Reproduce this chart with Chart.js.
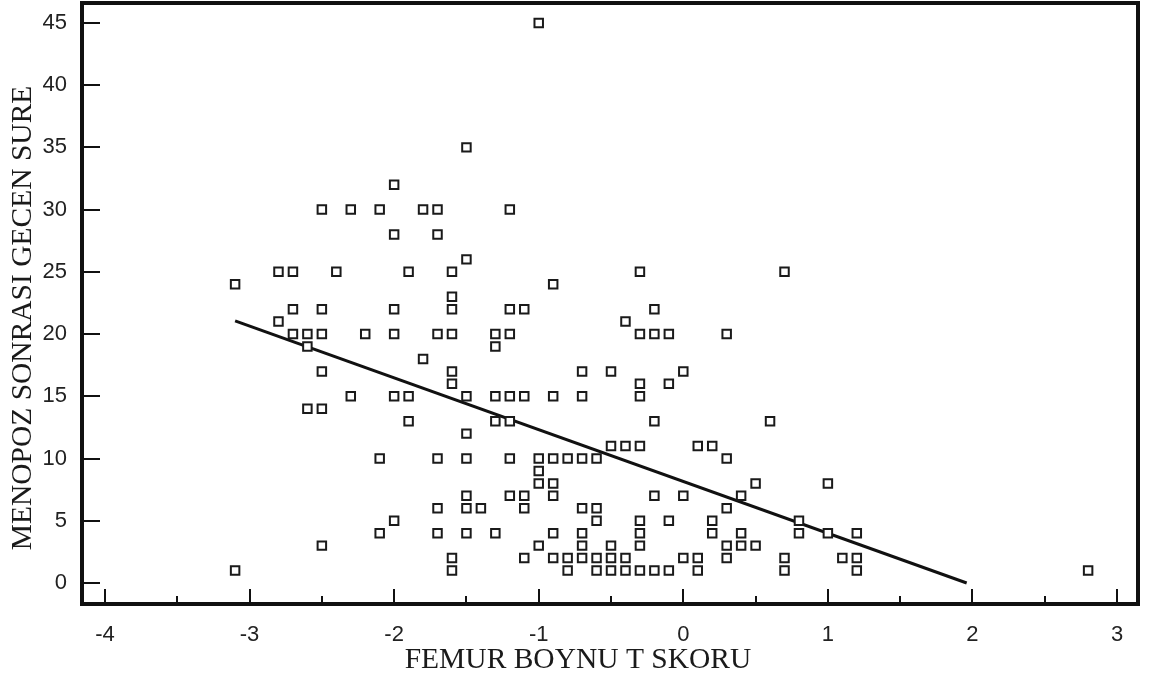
<!DOCTYPE html>
<html>
<head>
<meta charset="utf-8">
<script src="https://cdn.jsdelivr.net/npm/chart.js@4.4.1/dist/chart.umd.min.js"></script>
<style>
  html, body { margin: 0; padding: 0; background: #fff; }
  #wrap { width: 1152px; height: 683px; }
</style>
</head>
<body>
<div id="wrap"><canvas id="chart" width="1152" height="683"></canvas></div>
<script>
// Femur neck T score (x) and years since menopause (y), one pair per patient.
// Written row by row (same y on one line) to keep it readable.
const femurT = [
  -1.0,
  -1.5,
  -2.0,
  -2.5, -2.3, -2.1, -1.8, -1.7, -1.2,
  -2.0, -1.7,
  -1.5,
  -2.8, -2.7, -2.4, -1.9, -1.6, -0.3, 0.7,
  -3.1, -0.9,
  -1.6,
  -2.7, -2.5, -2.0, -1.6, -1.2, -1.1, -0.2,
  -2.8, -0.4,
  -2.7, -2.6, -2.5, -2.2, -2.0, -1.7, -1.6, -1.3, -1.2, -0.3, -0.2, -0.1, 0.3,
  -2.6, -1.3,
  -1.8,
  -2.5, -1.6, -0.7, -0.5, 0.0,
  -1.6, -0.3, -0.1,
  -2.3, -2.0, -1.9, -1.5, -1.3, -1.2, -1.1, -0.9, -0.7, -0.3,
  -2.6, -2.5,
  -1.9, -1.3, -1.2, -0.2, 0.6,
  -1.5,
  -0.5, -0.4, -0.3, 0.1, 0.2,
  -2.1, -1.7, -1.5, -1.2, -1.0, -0.9, -0.8, -0.7, -0.6, 0.3,
  -1.0,
  -1.0, -0.9, 0.5, 1.0,
  -1.5, -1.2, -1.1, -0.9, -0.2, 0.0, 0.4,
  -1.7, -1.5, -1.4, -1.1, -0.7, -0.6, 0.3,
  -2.0, -0.6, -0.3, -0.1, 0.2, 0.8,
  -2.1, -1.7, -1.5, -1.3, -0.9, -0.7, -0.3, 0.2, 0.4, 0.8, 1.0, 1.2,
  -2.5, -1.0, -0.7, -0.5, -0.3, 0.3, 0.4, 0.5,
  -1.6, -1.1, -0.9, -0.8, -0.7, -0.6, -0.5, -0.4, 0.0, 0.1, 0.3, 0.7, 1.1, 1.2,
  -3.1, -1.6, -0.8, -0.6, -0.5, -0.4, -0.3, -0.2, -0.1, 0.1, 0.7, 1.2, 2.8
];
const menopozYil = [
  45,
  35,
  32,
  30, 30, 30, 30, 30, 30,
  28, 28,
  26,
  25, 25, 25, 25, 25, 25, 25,
  24, 24,
  23,
  22, 22, 22, 22, 22, 22, 22,
  21, 21,
  20, 20, 20, 20, 20, 20, 20, 20, 20, 20, 20, 20, 20,
  19, 19,
  18,
  17, 17, 17, 17, 17,
  16, 16, 16,
  15, 15, 15, 15, 15, 15, 15, 15, 15, 15,
  14, 14,
  13, 13, 13, 13, 13,
  12,
  11, 11, 11, 11, 11,
  10, 10, 10, 10, 10, 10, 10, 10, 10, 10,
  9,
  8, 8, 8, 8,
  7, 7, 7, 7, 7, 7, 7,
  6, 6, 6, 6, 6, 6, 6,
  5, 5, 5, 5, 5, 5,
  4, 4, 4, 4, 4, 4, 4, 4, 4, 4, 4, 4,
  3, 3, 3, 3, 3, 3, 3, 3,
  2, 2, 2, 2, 2, 2, 2, 2, 2, 2, 2, 2, 2, 2,
  1, 1, 1, 1, 1, 1, 1, 1, 1, 1, 1, 1, 1
];

// fitted regression line end points
const regX = [-3.1, 1.96];
const regY = [21.06, 0];

// inward tick marks
const yTickValues = [0, 5, 10, 15, 20, 25, 30, 35, 40, 45];
const xTickValues = [-4, -3.5, -3, -2.5, -2, -1.5, -1, -0.5, 0, 0.5, 1, 1.5, 2, 2.5, 3];

const xTitle = 'FEMUR BOYNU T SKORU';
const yTitle = 'MENOPOZ SONRASI GECEN SURE';

const points = femurT.map((v, i) => ({ x: v, y: menopozYil[i] }));
const regLine = regX.map((v, i) => ({ x: v, y: regY[i] }));

// frame, inward ticks and axis titles
const frameAndTicks = {
    id: 'frameAndTicks',
    afterDatasetsDraw(chart) {
        const { ctx, chartArea: a, scales: { x, y } } = chart;
        ctx.save();
        ctx.strokeStyle = '#111';
        ctx.lineWidth = 2;
        ctx.beginPath();
        yTickValues.forEach(v => {
            const py = Math.round(y.getPixelForValue(v));
            ctx.moveTo(a.left, py);
            ctx.lineTo(a.left + 18, py);
        });
        xTickValues.forEach(v => {
            const px = Math.round(x.getPixelForValue(v));
            const len = Number.isInteger(v) ? 15 : 8;
            ctx.moveTo(px, a.bottom);
            ctx.lineTo(px, a.bottom - len);
        });
        ctx.stroke();

        ctx.lineWidth = 4;
        ctx.strokeRect(a.left, a.top, a.right - a.left, a.bottom - a.top);

        ctx.fillStyle = '#1a1a1a';
        ctx.font = '29.5px "Liberation Serif"';
        ctx.textAlign = 'center';
        ctx.textBaseline = 'middle';
        ctx.fillText(xTitle, 578, 660);
        ctx.translate(23, 318);
        ctx.rotate(-Math.PI / 2);
        ctx.fillText(yTitle, 0, 0);
        ctx.restore();
    }
};

const context = document.getElementById('chart').getContext('2d');
new Chart(context, {
    type: 'scatter',
    data: {
        datasets: [
            {
                data: points,
                pointStyle: 'rect',
                pointRadius: 6,
                borderWidth: 2,
                borderColor: '#1a1a1a',
                backgroundColor: '#fff'
            },
            {
                type: 'line',
                data: regLine,
                showLine: true,
                pointRadius: 0,
                borderColor: '#111',
                borderWidth: 3,
                fill: false
            }
        ]
    },
    options: {
        responsive: false,
        animation: false,
        layout: { autoPadding: false, padding: { top: 3, right: 14, left: 0, bottom: 0 } },
        plugins: {
            legend: { display: false },
            tooltip: { enabled: false }
        },
        scales: {
            x: {
                type: 'linear',
                min: -4.159,
                max: 3.145,
                grid: { display: false },
                border: { display: false },
                ticks: {
                    stepSize: 1,
                    includeBounds: false,
                    maxRotation: 0,
                    autoSkip: false,
                    padding: 10,
                    color: '#222',
                    font: { family: 'Liberation Sans', size: 22 }
                },
                afterFit(scale) {
                    scale.height = 79;
                    scale.paddingLeft = 0;
                    scale.paddingRight = 0;
                }
            },
            y: {
                type: 'linear',
                min: -1.69,
                max: 46.6,
                grid: { display: false },
                border: { display: false },
                ticks: {
                    stepSize: 5,
                    includeBounds: false,
                    padding: 7,
                    color: '#222',
                    font: { family: 'Liberation Sans', size: 22 }
                },
                afterFit(scale) {
                    scale.width = 82;
                    scale.paddingTop = 0;
                    scale.paddingBottom = 0;
                }
            }
        }
    },
    plugins: [frameAndTicks]
});
</script>
</body>
</html>
